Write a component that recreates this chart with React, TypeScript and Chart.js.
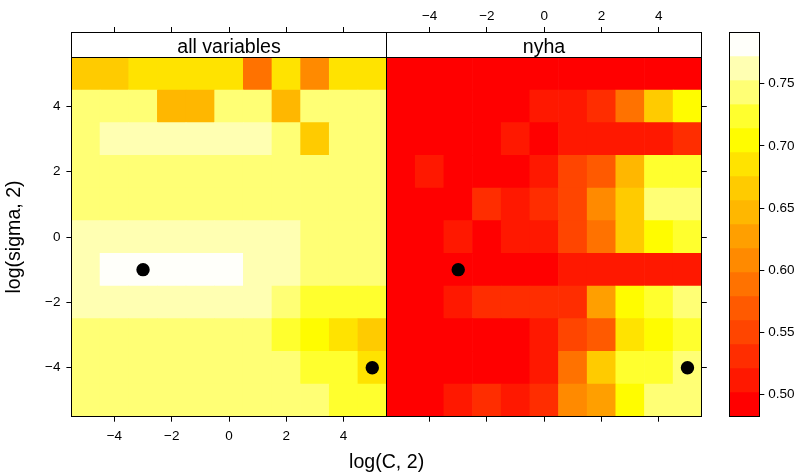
import React, { useEffect, useRef } from "react";
import { Chart, registerables } from "chart.js";

Chart.register(...registerables);

// ---------------- data ----------------
const LOG_C = [-5, -4, -3, -2, -1, 0, 1, 2, 3, 4, 5];
const LOG_SIGMA = [5, 4, 3, 2, 1, 0, -1, -2, -3, -4, -5]; // rows, top to bottom
const PANEL_NAMES = ["all variables", "nyha"];

// accuracy per cell, rows follow LOG_SIGMA, columns follow LOG_C
const ACC_ALL_VARIABLES = [
  [0.666, 0.666, 0.685, 0.685, 0.685, 0.685, 0.589, 0.685, 0.608, 0.685, 0.685],
  [0.743, 0.743, 0.743, 0.646, 0.646, 0.743, 0.743, 0.646, 0.743, 0.743, 0.743],
  [0.743, 0.762, 0.762, 0.762, 0.762, 0.762, 0.762, 0.743, 0.666, 0.743, 0.743],
  [0.743, 0.743, 0.743, 0.743, 0.743, 0.743, 0.743, 0.743, 0.743, 0.743, 0.743],
  [0.743, 0.743, 0.743, 0.743, 0.743, 0.743, 0.743, 0.743, 0.743, 0.743, 0.743],
  [0.762, 0.762, 0.762, 0.762, 0.762, 0.762, 0.762, 0.762, 0.743, 0.743, 0.743],
  [0.762, 0.782, 0.782, 0.782, 0.782, 0.782, 0.762, 0.762, 0.743, 0.743, 0.743],
  [0.762, 0.762, 0.762, 0.762, 0.762, 0.762, 0.762, 0.743, 0.724, 0.724, 0.724],
  [0.743, 0.743, 0.743, 0.743, 0.743, 0.743, 0.743, 0.724, 0.704, 0.685, 0.666],
  [0.743, 0.743, 0.743, 0.743, 0.743, 0.743, 0.743, 0.743, 0.724, 0.724, 0.685],
  [0.743, 0.743, 0.743, 0.743, 0.743, 0.743, 0.743, 0.743, 0.743, 0.724, 0.724],
];

const ACC_NYHA = [
  [0.492, 0.492, 0.492, 0.492, 0.492, 0.492, 0.492, 0.492, 0.492, 0.492, 0.492],
  [0.492, 0.492, 0.492, 0.492, 0.492, 0.511, 0.511, 0.531, 0.589, 0.666, 0.704],
  [0.492, 0.492, 0.492, 0.492, 0.511, 0.492, 0.511, 0.511, 0.511, 0.511, 0.531],
  [0.492, 0.511, 0.492, 0.492, 0.492, 0.511, 0.550, 0.569, 0.646, 0.724, 0.724],
  [0.492, 0.492, 0.492, 0.531, 0.511, 0.531, 0.550, 0.608, 0.666, 0.743, 0.743],
  [0.492, 0.492, 0.511, 0.492, 0.511, 0.511, 0.550, 0.589, 0.666, 0.704, 0.724],
  [0.492, 0.492, 0.492, 0.492, 0.492, 0.492, 0.511, 0.511, 0.511, 0.511, 0.511],
  [0.492, 0.492, 0.511, 0.531, 0.531, 0.531, 0.531, 0.627, 0.704, 0.724, 0.743],
  [0.492, 0.492, 0.492, 0.492, 0.492, 0.511, 0.550, 0.569, 0.685, 0.704, 0.724],
  [0.492, 0.492, 0.492, 0.492, 0.492, 0.511, 0.589, 0.666, 0.724, 0.724, 0.743],
  [0.492, 0.492, 0.511, 0.531, 0.511, 0.531, 0.608, 0.627, 0.704, 0.743, 0.743],
];

const PANEL_VALUES = [ACC_ALL_VARIABLES, ACC_NYHA];

const BEST_LOG_C = [-3, 5];
const BEST_LOG_SIGMA = [-1, -4];

const AXIS_TICKS = [-4, -2, 0, 2, 4];
const KEY_TICKS = [0.5, 0.55, 0.6, 0.65, 0.7, 0.75];
const KEY_MIN = 0.4823;
const KEY_MAX = 0.7911;

// ---------------- style / layout ----------------
const REGION_COLORS = [
  "#FF0000", "#FF1800", "#FF2D00", "#FF4500", "#FF5A00", "#FF7200", "#FF8A00", "#FF9F00",
  "#FFB700", "#FFCB00", "#FFE300", "#FFFC00", "#FFFF2E", "#FFFF75", "#FFFFB2", "#FFFFFA",
];
const W = 808;
const H = 476;
const PLOT_L = 71.4;
const PLOT_R = 701.8;
const PLOT_T = 57.3;
const PLOT_B = 416.7;
const STRIP_H = 25;
const TOP_TICK_END = 27;
const KEY_L = 729.3;
const KEY_R = 759.3;
const KEY_T = 32.5;
const FONT = "'Liberation Sans', Arial, Helvetica, sans-serif";
const TICK_FONT = { family: FONT, size: 13.5 };
const TITLE_FONT = { family: FONT, size: 19.6 };

const C_SPAN = LOG_C.length; // width of one panel in x units
const X_MIN = LOG_C[0] - 0.5;
const X_MAX = LOG_C[LOG_C.length - 1] + 0.5 + C_SPAN * (PANEL_NAMES.length - 1);
const PANEL1_MAX = LOG_C[LOG_C.length - 1] + 0.5;
const N_REG = REGION_COLORS.length;
const KEY_BREAKS = Array.from({ length: N_REG + 1 }, (_, k) => KEY_MIN + (k * (KEY_MAX - KEY_MIN)) / N_REG);

const fmt = (v: number) => (v < 0 ? "\u2212" + Math.abs(v) : String(v));
const colorFor = (v: number) => {
  let k = Math.floor((v - KEY_MIN) / ((KEY_MAX - KEY_MIN) / N_REG));
  k = Math.max(0, Math.min(N_REG - 1, k));
  return REGION_COLORS[k];
};

const X_TICK_VALUES: number[] = [];
PANEL_NAMES.forEach((_, i) => AXIS_TICKS.forEach((t) => X_TICK_VALUES.push(t + i * C_SPAN)));

const stripPlugin = {
  id: "strips",
  afterDraw(chart: any) {
    const { ctx, chartArea: a, scales } = chart;
    const xs = scales.x;
    ctx.save();
    ctx.lineWidth = 1;
    PANEL_NAMES.forEach((name, i) => {
      const x0 = Math.floor(xs.getPixelForValue(X_MIN + i * C_SPAN)) + 0.5;
      const x1 = Math.floor(xs.getPixelForValue(PANEL1_MAX + i * C_SPAN)) + 0.5;
      const top = Math.floor(a.top - STRIP_H) + 0.5;
      const pt = Math.floor(a.top) + 0.5;
      const pb = Math.floor(a.bottom) + 0.5;
      ctx.fillStyle = "#ffffff";
      ctx.fillRect(x0, top, x1 - x0, pt - top);
      ctx.strokeStyle = "#000";
      ctx.strokeRect(x0, top, x1 - x0, pt - top);
      ctx.strokeRect(x0, pt, x1 - x0, pb - pt);
      ctx.fillStyle = "#000";
      ctx.font = `${TITLE_FONT.size}px ${FONT}`;
      ctx.textAlign = "center";
      ctx.textBaseline = "alphabetic";
      ctx.fillText(name, (x0 + x1) / 2, top + 20.8);
    });
    ctx.restore();
  },
};

const keyBorderPlugin = {
  id: "keyBorder",
  afterDraw(chart: any) {
    const { ctx, chartArea: a } = chart;
    ctx.save();
    ctx.strokeStyle = "#000";
    ctx.lineWidth = 1;
    const l = Math.floor(a.left) + 0.5;
    const r = Math.floor(a.right) + 0.5;
    const t = Math.floor(a.top) + 0.5;
    const b = Math.floor(a.bottom) + 0.5;
    ctx.strokeRect(l, t, r - l, b - t);
    ctx.restore();
  },
};

export default function App() {
  const mainRef = useRef<HTMLCanvasElement>(null);
  const keyRef = useRef<HTMLCanvasElement>(null);

  useEffect(() => {
    const cellSets = PANEL_VALUES.map((vals, i) => {
      const cells: any[] = [];
      LOG_SIGMA.forEach((s, r) =>
        LOG_C.forEach((c, j) => cells.push({ x: c + i * C_SPAN, y: [s - 0.5, s + 0.5], v: vals[r][j] }))
      );
      return {
        type: "bar" as const,
        label: PANEL_NAMES[i],
        data: cells,
        backgroundColor: cells.map((d) => colorFor(d.v)),
        borderWidth: 0,
        grouped: false,
        barPercentage: 1,
        categoryPercentage: 1,
        order: 2,
      };
    });
    const points: any[] = [];
    PANEL_NAMES.forEach((_, i) =>
      BEST_LOG_C.forEach((c, k) => points.push({ x: c + i * C_SPAN, y: BEST_LOG_SIGMA[k] }))
    );

    const mainChart = new Chart(mainRef.current as HTMLCanvasElement, {
      type: "bar",
      data: {
        datasets: [
          {
            type: "scatter",
            label: "best",
            data: points,
            pointRadius: 6.7,
            pointHoverRadius: 6.7,
            pointBackgroundColor: "#000",
            pointBorderWidth: 0,
            showLine: false,
            order: 0,
          } as any,
          ...cellSets,
        ],
      },
      options: {
        responsive: false,
        animation: false,
        events: [],
        layout: { padding: 0 },
        plugins: { legend: { display: false }, tooltip: { enabled: false } },
        scales: {
          x: {
            type: "linear",
            position: "bottom",
            min: X_MIN,
            max: X_MAX,
            offset: false,
            afterBuildTicks: (s: any) => {
              s.ticks = X_TICK_VALUES.map((v) => ({ value: v }));
            },
            afterFit: (s: any) => {
              s.height = H - PLOT_B;
            },
            ticks: {
              autoSkip: false,
              maxRotation: 0,
              padding: 6.5,
              color: "#000",
              font: TICK_FONT,
              callback: (v: any) => (v <= PANEL1_MAX ? fmt(v) : ""),
            },
            grid: { drawOnChartArea: false, tickLength: 5, color: "#000", offset: false },
            border: { display: false },
            title: {
              display: true,
              text: "log(C, 2)",
              color: "#000",
              font: TITLE_FONT,
              padding: { top: 0, bottom: 2 },
            },
          },
          x2: {
            type: "linear",
            axis: "x",
            position: "top",
            min: X_MIN,
            max: X_MAX,
            offset: false,
            afterBuildTicks: (s: any) => {
              s.ticks = X_TICK_VALUES.map((v) => ({ value: v }));
            },
            afterFit: (s: any) => {
              s.height = PLOT_T;
            },
            ticks: {
              autoSkip: false,
              maxRotation: 0,
              padding: 2.5,
              color: "#000",
              font: TICK_FONT,
              callback: (v: any) => (v > PANEL1_MAX ? fmt(v - C_SPAN) : ""),
            },
            grid: { drawOnChartArea: false, tickLength: PLOT_T - TOP_TICK_END, color: "#000", offset: false },
            border: { display: false },
          },
          y: {
            type: "linear",
            position: "left",
            min: LOG_SIGMA[LOG_SIGMA.length - 1] - 0.5,
            max: LOG_SIGMA[0] + 0.5,
            afterBuildTicks: (s: any) => {
              s.ticks = AXIS_TICKS.map((v) => ({ value: v }));
            },
            afterFit: (s: any) => {
              s.width = PLOT_L;
            },
            ticks: { padding: 6, color: "#000", font: TICK_FONT, callback: (v: any) => fmt(v) },
            grid: { drawOnChartArea: false, tickLength: 5, color: "#000" },
            border: { display: false },
            title: {
              display: true,
              text: "log(sigma, 2)",
              color: "#000",
              font: TITLE_FONT,
              padding: { top: 3, bottom: 0 },
            },
          },
          y2: {
            type: "linear",
            axis: "y",
            position: "right",
            min: LOG_SIGMA[LOG_SIGMA.length - 1] - 0.5,
            max: LOG_SIGMA[0] + 0.5,
            afterBuildTicks: (s: any) => {
              s.ticks = AXIS_TICKS.map((v) => ({ value: v }));
            },
            afterFit: (s: any) => {
              s.width = W - PLOT_R;
            },
            ticks: { padding: 0, font: TICK_FONT, callback: () => "" },
            grid: { drawOnChartArea: false, tickLength: 5, color: "#000" },
            border: { display: false },
          },
        },
      } as any,
      plugins: [stripPlugin],
    });

    const keyChart = new Chart(keyRef.current as HTMLCanvasElement, {
      type: "bar",
      data: {
        labels: [""],
        datasets: REGION_COLORS.map((c, k) => ({
          label: String(k),
          data: [[KEY_BREAKS[k], KEY_BREAKS[k + 1]]] as any,
          backgroundColor: c,
          borderWidth: 0,
          grouped: false,
          barPercentage: 1,
          categoryPercentage: 1,
        })),
      },
      options: {
        responsive: false,
        animation: false,
        events: [],
        layout: { padding: { left: KEY_L, top: KEY_T, bottom: H - PLOT_B, right: 0 } },
        plugins: { legend: { display: false }, tooltip: { enabled: false } },
        scales: {
          x: { display: false },
          y: {
            type: "linear",
            position: "right",
            min: KEY_MIN,
            max: KEY_MAX,
            afterBuildTicks: (s: any) => {
              s.ticks = KEY_TICKS.map((v) => ({ value: v }));
            },
            afterFit: (s: any) => {
              s.width = W - KEY_R;
            },
            ticks: {
              padding: 4,
              color: "#000",
              font: TICK_FONT,
              callback: (v: any) => Number(v).toFixed(2),
            },
            grid: { drawOnChartArea: false, tickLength: 5, color: "#000" },
            border: { display: false },
          },
        },
      } as any,
      plugins: [keyBorderPlugin],
    });

    return () => {
      mainChart.destroy();
      keyChart.destroy();
    };
  }, []);

  return (
    <div style={{ position: "absolute", left: 0, top: 0, width: W, height: H, background: "#fff" }}>
      <canvas ref={mainRef} width={W} height={H} style={{ position: "absolute", left: 0, top: 0 }} />
      <canvas ref={keyRef} width={W} height={H} style={{ position: "absolute", left: 0, top: 0 }} />
    </div>
  );
}
